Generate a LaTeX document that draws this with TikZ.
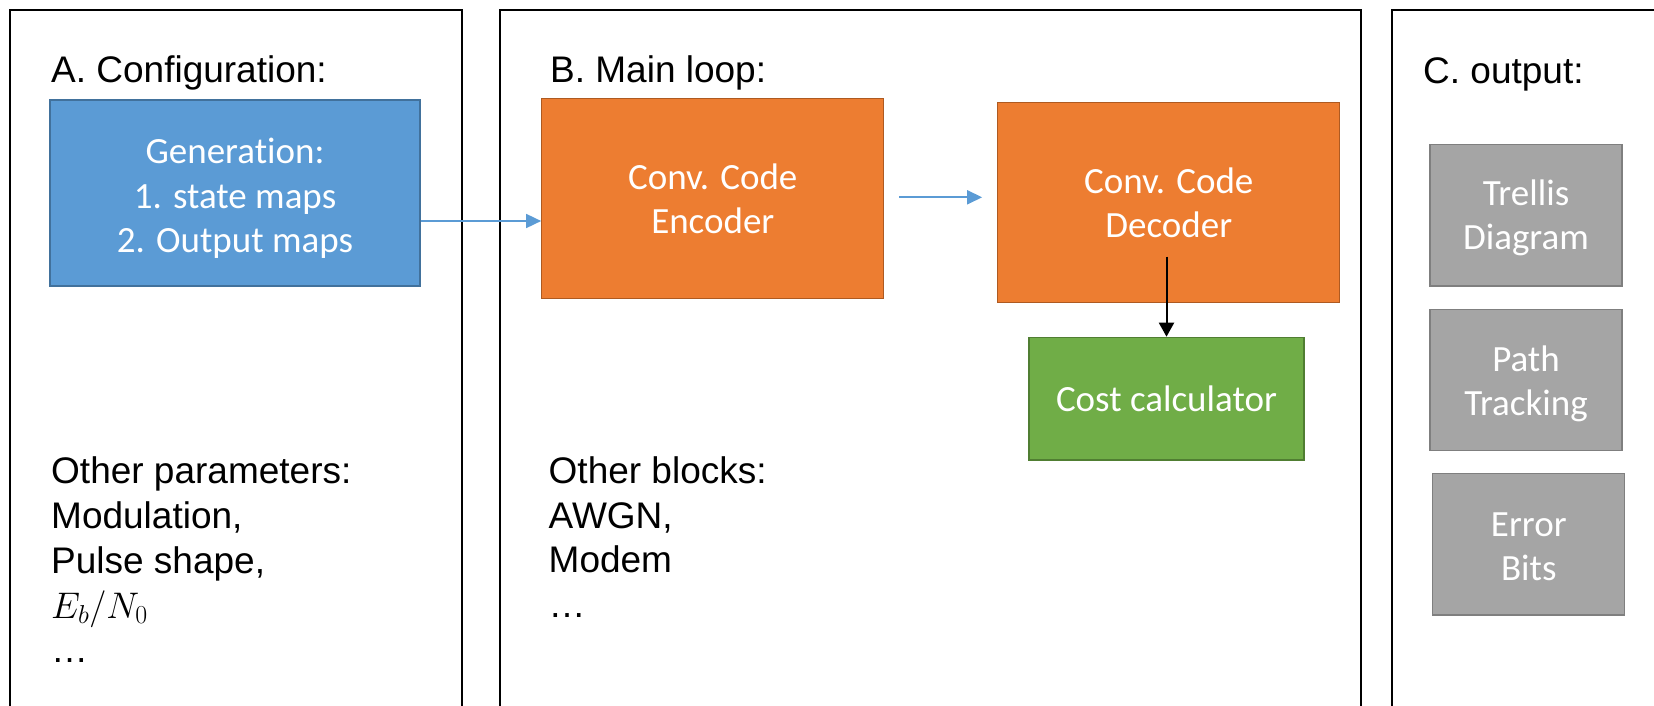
\RequirePackage{fix-cm}
\documentclass[tikz,border=0pt]{standalone}
\usepackage{fontspec}
\setmainfont{Liberation Sans}
\newfontfamily\boxfont[Ligatures=NoCommon]{Carlito}
\usetikzlibrary{arrows.meta}
\definecolor{bluefill}{HTML}{5B9BD5}
\definecolor{blueline}{HTML}{41719C}
\definecolor{orfill}{HTML}{ED7D31}
\definecolor{orline}{HTML}{AE5A21}
\definecolor{grfill}{HTML}{70AD47}
\definecolor{grline}{HTML}{507E32}
\definecolor{gyfill}{HTML}{A5A5A5}
\definecolor{gyline}{HTML}{7F7F7F}
\begin{document}
\begin{tikzpicture}[x=1pt,y=-1pt,
  panel/.style={draw=black,line width=2pt},
  block/.style={font=\boxfont\fontsize{37}{44.5}\selectfont, text=white, align=center,
    inner sep=0pt, line width=1.3pt},
  bluebox/.style={block, fill=bluefill, draw=blueline},
  orbox/.style={block, fill=orfill, draw=orline},
  grbox/.style={block, fill=grfill, draw=grline},
  gybox/.style={block, fill=gyfill, draw=gyline, minimum width=192pt, minimum height=141.5pt},
  lbl/.style={font=\fontsize{37}{44.5}\selectfont, anchor=base west, inner sep=0pt},
  bluearrow/.style={draw=bluefill, line width=1.7pt, -{Triangle[length=15pt,width=14pt]}},
  blackarrow/.style={draw=black, line width=2pt, -{Triangle[length=14pt,width=15pt]}}]
\useasboundingbox (0,0) rectangle (1654,705);
\clip (0,0) rectangle (1654,705);
% panels
\draw[panel] (10,730) -- (10,9.5) -- (461.5,9.5) -- (461.5,730);
\draw[panel] (500,730) -- (500,9.5) -- (1361,9.5) -- (1361,730);
\draw[panel] (1391.5,730) -- (1391.5,9.5) -- (1680,9.5);
% titles
\node[lbl] (ta) at (51,82) {A. Configuration:};
\node[lbl] (tb) at (550,82) {B. Main loop:};
\node[lbl] (tc) at (1423,83) {C. output:};
% blocks
\node[bluebox, minimum width=370pt, minimum height=186pt] (gen) at (235,193)
  {\rule{0pt}{36pt}Generation:\\1. state maps\\2. Output maps};
\node[orbox, minimum width=342pt, minimum height=200pt] (enc) at (712.8,198.8)
  {Conv. Code\\Encoder};
\node[orbox, minimum width=342pt, minimum height=200pt] (dec) at (1168.8,202.7)
  {Conv. Code\\Decoder};
\node[grbox, minimum width=275pt, minimum height=122.7pt] (cost) at (1166.5,398.7)
  {Cost calculator};
\node[gybox] (trel) at (1526,215.2) {\rule{0pt}{31pt}Trellis\\Diagram};
\node[gybox] (path) at (1526,380) {\rule{0pt}{33pt}Path\\Tracking};
\node[gybox] (err) at (1528.8,544.2) {\rule{0pt}{29pt}Error\\Bits};
% connectors
\coordinate (y1) at (0,221);
\coordinate (y2) at (0,197.3);
\coordinate (y3) at (0,256.7);
\draw[bluearrow] (gen.east |- y1) -- (enc.west |- y1);
\draw[bluearrow, shorten <=15pt, shorten >=15pt] (enc.east |- y2) -- (dec.west |- y2);
\draw[blackarrow] (cost.north |- y3) -- (cost.north);
% lower texts
\node[lbl] (oa1) at (51,483) {Other parameters:};
\node[lbl] (oa2) at (51,528) {Modulation,};
\node[lbl] (oa3) at (51,573) {Pulse shape,};
\node[lbl] (oa4) at (51,618) {$E_b/N_0$};
\node[lbl] (oa5) at (51,662) {…};
\node[lbl] (ob1) at (548.5,483) {Other blocks:};
\node[lbl] (ob2) at (548.5,528) {AWGN,};
\node[lbl] (ob3) at (548.5,572) {Modem};
\node[lbl] (ob4) at (548.5,617) {…};
\end{tikzpicture}
\end{document}
